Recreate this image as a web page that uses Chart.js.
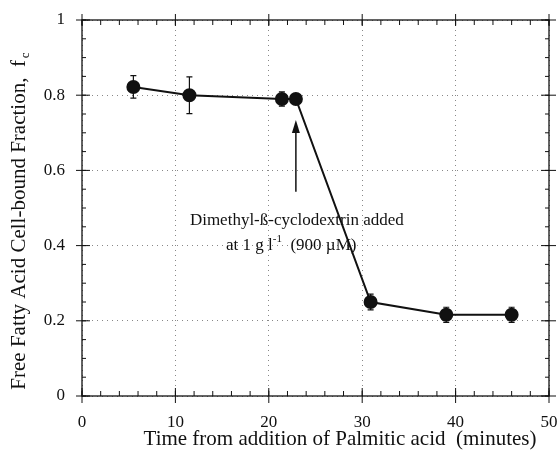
<!DOCTYPE html>
<html>
<head>
<meta charset="utf-8">
<script src="https://cdn.jsdelivr.net/npm/chart.js@4.4.1/dist/chart.umd.min.js"></script>
<style>
    html, body { margin: 0; padding: 0; background: #fff; }
</style>
</head>
<body>
<canvas id="chart" width="560" height="457"></canvas>
<script>
// Values
const times = [5.5, 11.5, 21.4, 22.9, 30.9, 39.0, 46.0];
const fraction = [0.822, 0.800, 0.790, 0.790, 0.250, 0.216, 0.216];
const errors = [0.030, 0.049, 0.019, 0, 0.021, 0.020, 0.020];
const xTicks = [0, 10, 20, 30, 40, 50];
const yTicks = [0, 0.2, 0.4, 0.6, 0.8, 1];

// Where the cyclodextrin was added (arrow + note)
const addedAt = 22.9;
const arrowFrom = 0.543;
const arrowTo = 0.734;

const SERIF = '"Liberation Serif", "Times New Roman", serif';
const INK = '#111';

// Error bars, drawn under the points
const errorBars = {
    id: 'errorBars',
    beforeDatasetsDraw(chart) {
        const { ctx, scales: { x, y } } = chart;
        ctx.save();
        ctx.strokeStyle = INK;
        ctx.lineWidth = 1.2;
        times.forEach((t, i) => {
            if (!errors[i]) return;
            const px = x.getPixelForValue(t);
            const top = y.getPixelForValue(fraction[i] + errors[i]);
            const bot = y.getPixelForValue(fraction[i] - errors[i]);
            ctx.beginPath();
            ctx.moveTo(px, top); ctx.lineTo(px, bot);
            ctx.moveTo(px - 3, top); ctx.lineTo(px + 3, top);
            ctx.moveTo(px - 3, bot); ctx.lineTo(px + 3, bot);
            ctx.stroke();
        });
        ctx.restore();
    }
};

// Box frame with ticks on all four sides, titles and the arrow note
const frameAndNotes = {
    id: 'frameAndNotes',
    afterDraw(chart) {
        const { ctx, chartArea: a, scales: { x, y } } = chart;
        ctx.save();
        ctx.strokeStyle = INK;
        ctx.fillStyle = INK;
        ctx.lineWidth = 1.3;
        ctx.strokeRect(a.left, a.top, a.right - a.left, a.bottom - a.top);

        ctx.lineWidth = 1;
        ctx.beginPath();
        // x minor/major ticks (bottom + top)
        for (let v = 0; v <= 50; v += 2) {
            const px = x.getPixelForValue(v);
            ctx.moveTo(px, a.bottom); ctx.lineTo(px, a.bottom - 5);
            ctx.moveTo(px, a.top); ctx.lineTo(px, a.top + 5);
        }
        xTicks.forEach(v => {
            const px = x.getPixelForValue(v);
            ctx.moveTo(px, a.bottom + 7); ctx.lineTo(px, a.bottom - 8);
            ctx.moveTo(px, a.top - 6); ctx.lineTo(px, a.top + 6);
        });
        // y minor/major ticks (left + right)
        for (let v = 0; v <= 1.0001; v += 0.05) {
            const py = y.getPixelForValue(v);
            ctx.moveTo(a.left, py); ctx.lineTo(a.left + 4, py);
            ctx.moveTo(a.right, py); ctx.lineTo(a.right - 4, py);
        }
        yTicks.forEach(v => {
            const py = y.getPixelForValue(v);
            ctx.moveTo(a.left - 6, py); ctx.lineTo(a.left + 8, py);
            ctx.moveTo(a.right - 8, py); ctx.lineTo(a.right + 7, py);
        });
        ctx.stroke();

        // arrow
        const ax = x.getPixelForValue(addedAt);
        const ay0 = y.getPixelForValue(arrowFrom);
        const ay1 = y.getPixelForValue(arrowTo);
        ctx.lineWidth = 1.5;
        ctx.beginPath();
        ctx.moveTo(ax, ay0); ctx.lineTo(ax, ay1 + 10);
        ctx.stroke();
        ctx.beginPath();
        ctx.moveTo(ax, ay1);
        ctx.lineTo(ax - 4, ay1 + 13);
        ctx.lineTo(ax + 4, ay1 + 13);
        ctx.closePath();
        ctx.fill();

        // note text
        ctx.font = '17px ' + SERIF;
        ctx.textBaseline = 'middle';
        ctx.textAlign = 'center';
        ctx.fillText('Dimethyl-ß-cyclodextrin added', x.getPixelForValue(23.0), y.getPixelForValue(0.466));
        const p1 = 'at 1 g l', p2 = '-1', p3 = '  (900 µM)';
        const w1 = ctx.measureText(p1).width, w3 = ctx.measureText(p3).width;
        ctx.font = '11px ' + SERIF;
        const w2 = ctx.measureText(p2).width;
        let sx = x.getPixelForValue(22.4) - (w1 + w2 + w3) / 2;
        const sy = y.getPixelForValue(0.400);
        ctx.textAlign = 'left';
        ctx.font = '17px ' + SERIF;
        ctx.fillText(p1, sx, sy);
        ctx.font = '11px ' + SERIF;
        ctx.fillText(p2, sx + w1, sy - 6);
        ctx.font = '17px ' + SERIF;
        ctx.fillText(p3, sx + w1 + w2, sy);

        // x axis title
        ctx.font = '21px ' + SERIF;
        ctx.textAlign = 'center';
        ctx.fillText('Time from addition of Palmitic acid  (minutes)', 340, 439);

        // y axis title, with subscript c
        ctx.translate(19, 222);
        ctx.rotate(-Math.PI / 2);
        const main = 'Free Fatty Acid Cell-bound Fraction,  f';
        ctx.font = '21px ' + SERIF;
        const wm = ctx.measureText(main).width;
        ctx.font = '13px ' + SERIF;
        const ws = ctx.measureText('c').width;
        const start = -(wm + ws) / 2;
        ctx.textAlign = 'left';
        ctx.font = '21px ' + SERIF;
        ctx.fillText(main, start, 0);
        ctx.font = '13px ' + SERIF;
        ctx.fillText('c', start + wm + 2, 7);
        ctx.restore();
    }
};

new Chart(document.getElementById('chart'), {
    type: 'line',
    data: {
        datasets: [{
            data: times.map((t, i) => ({ x: t, y: fraction[i] })),
            borderColor: INK,
            borderWidth: 2,
            backgroundColor: INK,
            pointBackgroundColor: INK,
            pointBorderColor: INK,
            pointRadius: 6,
            tension: 0,
            fill: false
        }]
    },
    options: {
        responsive: false,
        animation: false,
        devicePixelRatio: 1,
        layout: { padding: { left: 0, right: 11, top: 20, bottom: 0 } },
        plugins: {
            legend: { display: false },
            tooltip: { enabled: false }
        },
        scales: {
            x: {
                type: 'linear',
                min: 0,
                max: 50,
                afterBuildTicks: (scale) => { scale.ticks = xTicks.map(v => ({ value: v })); },
                afterFit: (scale) => {
                    scale.height = 61;
                    scale.paddingLeft = 0;
                    scale.paddingRight = 0;
                },
                ticks: {
                    color: INK,
                    font: { family: SERIF, size: 17 },
                    padding: 16,
                    maxRotation: 0,
                    callback: (v) => String(v)
                },
                grid: { color: '#888', lineWidth: 1, drawTicks: false },
                border: { display: false, dash: [1, 4] }
            },
            y: {
                min: 0,
                max: 1,
                afterBuildTicks: (scale) => { scale.ticks = yTicks.map(v => ({ value: v })); },
                afterFit: (scale) => {
                    scale.width = 82;
                    scale.paddingTop = 0;
                    scale.paddingBottom = 0;
                },
                ticks: {
                    color: INK,
                    font: { family: SERIF, size: 17 },
                    padding: 17,
                    callback: (v) => String(v)
                },
                grid: { color: '#888', lineWidth: 1, drawTicks: false },
                border: { display: false, dash: [1, 4] }
            }
        }
    },
    plugins: [errorBars, frameAndNotes]
});
</script>
</body>
</html>
